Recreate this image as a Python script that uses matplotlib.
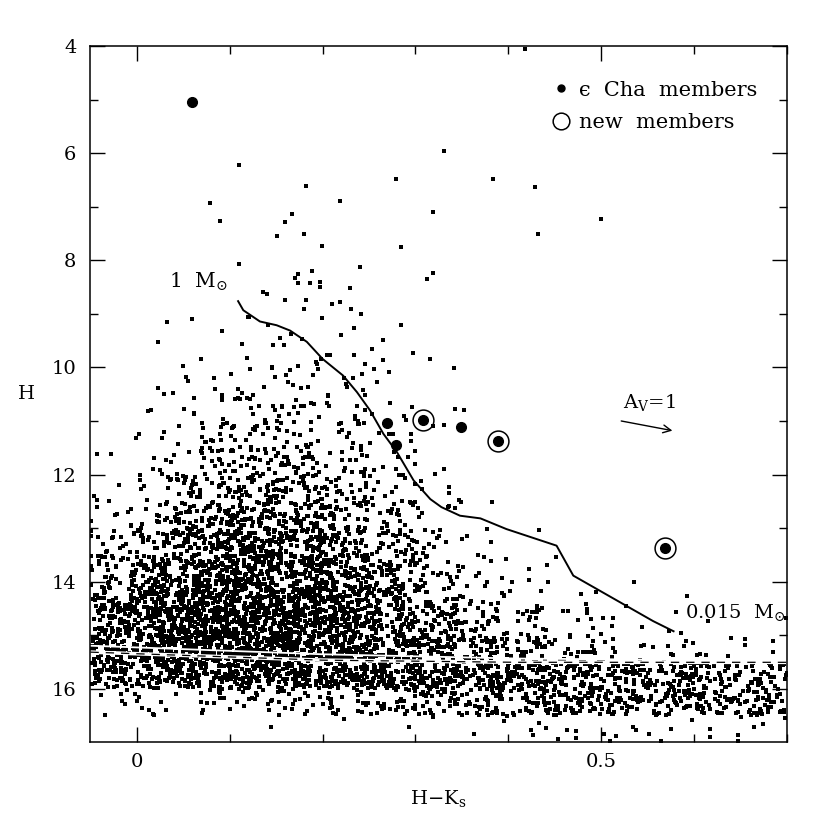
import matplotlib
matplotlib.use('Agg')
import matplotlib.pyplot as plt
from matplotlib.lines import Line2D
import numpy as np

plt.rcParams['font.family'] = ['DejaVu Serif', 'DejaVu Sans']
plt.rcParams['mathtext.fontset'] = 'dejavuserif'
plt.rcParams['lines.scale_dashes'] = False

# bright field stars (H < 9), read one by one
bright_c = [0.418, 0.331, 0.110, 0.182, 0.429, 0.279, 0.384, 0.219, 0.079, 0.319,
            0.167, 0.089, 0.159, 0.500, 0.180, 0.151, 0.432, 0.199, 0.284, 0.110,
            0.240, 0.173, 0.170, 0.173, 0.189, 0.186, 0.197, 0.197, 0.312, 0.319,
            0.136, 0.140, 0.229, 0.159, 0.182, 0.210, 0.219, 0.180, 0.231]
bright_H = [4.04, 5.96, 6.21, 6.60, 6.63, 6.47, 6.47, 6.88, 6.93, 7.09,
            7.14, 7.26, 7.28, 7.23, 7.51, 7.54, 7.51, 7.72, 7.75, 8.07,
            8.12, 8.26, 8.33, 8.42, 8.19, 8.42, 8.40, 8.49, 8.34, 8.23,
            8.58, 8.62, 8.52, 8.73, 8.74, 8.82, 8.78, 8.90, 8.90]

# fainter field stars: counts per cell (0.05 mag in H-Ks, 0.5 mag in H)
cell_c = [-0.025, 0.025, 0.075, 0.125, 0.175, 0.225, 0.275, 0.325,
          0.375, 0.425, 0.475, 0.525, 0.575, 0.625, 0.675]
cell_H = [9.25, 9.75, 10.25, 10.75, 11.25, 11.75, 12.25, 12.75,
          13.25, 13.75, 14.25, 14.75, 15.25, 15.75, 16.25, 16.75]
cell_counts = [
    [0, 1, 2, 3, 4, 3, 2, 0, 0, 0, 0, 0, 0, 0, 0],
    [0, 1, 2, 4, 5, 4, 3, 1, 0, 0, 0, 0, 0, 0, 0],
    [0, 2, 4, 7, 8, 6, 3, 1, 0, 0, 0, 0, 0, 0, 0],
    [0, 3, 8, 12, 13, 9, 5, 1, 1, 0, 0, 0, 0, 0, 0],
    [1, 5, 13, 18, 17, 12, 6, 2, 0, 0, 0, 0, 0, 0, 0],
    [2, 8, 19, 27, 24, 16, 8, 2, 0, 0, 0, 0, 0, 0, 0],
    [4, 13, 28, 38, 34, 23, 12, 5, 0, 0, 0, 0, 0, 0, 0],
    [8, 22, 45, 56, 50, 34, 19, 7, 1, 0, 0, 0, 0, 0, 0],
    [17, 38, 65, 78, 70, 50, 28, 12, 4, 1, 0, 0, 0, 0, 0],
    [32, 58, 86, 96, 87, 65, 38, 18, 8, 3, 1, 0, 0, 0, 0],
    [50, 82, 106, 112, 105, 82, 53, 28, 14, 7, 3, 2, 1, 0, 0],
    [70, 100, 118, 122, 114, 96, 68, 42, 24, 15, 8, 4, 3, 1, 1],
    [82, 108, 122, 125, 120, 105, 82, 60, 44, 30, 19, 9, 7, 5, 4],
    [62, 74, 82, 86, 90, 90, 86, 82, 76, 68, 60, 54, 48, 42, 38],
    [7, 9, 12, 14, 18, 22, 28, 34, 39, 44, 48, 50, 50, 47, 45],
    [0, 0, 0, 1, 0, 1, 1, 2, 3, 4, 4, 5, 4, 4, 4],
]
cell_dc = 0.05
cell_dH = 0.5

# eps Cha members and new members
members_c = [0.0596, 0.269, 0.279, 0.349]
members_H = [5.03, 11.03, 11.44, 11.12]
new_c = [0.3085, 0.389, 0.569]
new_H = [10.98, 11.38, 13.37]

# isochrone from 1 to 0.015 Msun
iso_c = [0.109, 0.1146, 0.1325, 0.1505, 0.165, 0.183, 0.200, 0.222, 0.237, 0.251,
         0.2655, 0.280, 0.298, 0.316, 0.328, 0.348, 0.370, 0.398, 0.452, 0.470,
         0.556, 0.578]
iso_H = [8.76, 8.93, 9.14, 9.21, 9.31, 9.52, 9.84, 10.15, 10.46, 10.80,
         11.24, 11.58, 12.11, 12.46, 12.61, 12.77, 12.82, 13.02, 13.33, 13.89,
         14.74, 14.93]

# limit lines near the faint end
lim1_c = [-0.05, 0.2, 0.41, 0.7]
lim1_H = [15.20, 15.36, 15.44, 15.48]
lim2_c = [-0.05, 0.2, 0.41, 0.7]
lim2_H = [15.32, 15.47, 15.51, 15.51]

# reddening vector A_V = 1
av_c, av_H = 0.5187, 10.99
av_dc, av_dH = 0.061, 0.20


def spread(n, k0):
    # deterministic, even but irregular spread of n dots inside a unit cell
    # (quadratic Weyl sequence)
    k = np.arange(n, dtype=float) + k0
    u = (k * 0.7548776662 + k * k * 0.2020305089) % 1
    v = (k * 0.5698402910 + k * k * 0.1574592450) % 1
    return u, v


fx, fy = [], []
for i, row in enumerate(cell_counts):
    for j, n in enumerate(row):
        if n == 0:
            continue
        u, v = spread(n, 131 * (i * len(row) + j) + 7)
        fx.extend(cell_c[j] - cell_dc / 2 + u * cell_dc)
        fy.extend(cell_H[i] - cell_dH / 2 + v * cell_dH)

fig = plt.figure(figsize=(8.3, 8.3), dpi=100)
ax = fig.add_axes([0.109, 0.106, 0.839, 0.838])

ax.plot(bright_c, bright_H, 's', color='k', ms=2.2, mew=0)
ax.plot(fx, fy, 's', color='k', ms=2.2, mew=0)

ax.plot(lim1_c, lim1_H, color='white', lw=1.3)
ax.plot(lim2_c, lim2_H, color='white', lw=2.6)
ax.plot(lim2_c, lim2_H, color='k', lw=0.9, dashes=(6, 5))

ax.plot(iso_c, iso_H, color='k', lw=1.4)

ax.plot(members_c + new_c, members_H + new_H, 'o', color='k', ms=7)
ax.plot(new_c, new_H, 'o', mfc='none', mec='k', ms=15, mew=1.1)

ax.annotate('', xy=(av_c + av_dc, av_H + av_dH), xytext=(av_c, av_H),
            arrowprops=dict(arrowstyle='->', lw=1.0, color='k',
                            mutation_scale=14))
ax.text(0.524, 10.75, r'A$_{\rm V}$=1', fontsize=14, ha='left', va='baseline')
ax.text(0.098, 8.50, r'1  M$_{\odot}$', fontsize=14.5, ha='right', va='baseline')
ax.text(0.590, 14.68, r'0.015  M$_{\odot}$', fontsize=14, ha='left', va='baseline')

handles = [Line2D([], [], ls='none', marker='o', ms=5, color='k'),
           Line2D([], [], ls='none', marker='o', ms=12, mfc='none', mec='k', mew=1.1)]
ax.legend(handles, ['\u03f5  Cha  members', 'new  members'], loc='upper right',
          bbox_to_anchor=(0.985, 0.978), frameon=False, fontsize=15,
          handletextpad=0.3, labelspacing=0.65, handlelength=1.2)

ax.set_xlim(-0.05, 0.7)
ax.set_ylim(17, 4)
ax.set_xticks([0, 0.5])
ax.set_xticklabels(['0', '0.5'])
ax.set_xticks(np.arange(-0.0, 0.71, 0.1), minor=True)
ax.set_yticks(np.arange(4, 17, 2))
ax.set_yticks(np.arange(5, 17, 2), minor=True)
ax.tick_params(which='both', direction='in', top=True, right=True,
               labelsize=14, width=1.0)
ax.tick_params(axis='x', which='both', pad=8)
ax.tick_params(axis='y', which='both', pad=10)
ax.tick_params(which='major', length=11)
ax.tick_params(which='minor', length=5.5)
for s in ax.spines.values():
    s.set_linewidth(1.1)

ax.set_xlabel(r'H$-$K$_{\rm s}$', fontsize=14, labelpad=12)
ax.set_ylabel('H', fontsize=14, rotation=0, labelpad=18, va='center')

fig.savefig('out.png', dpi=100)
